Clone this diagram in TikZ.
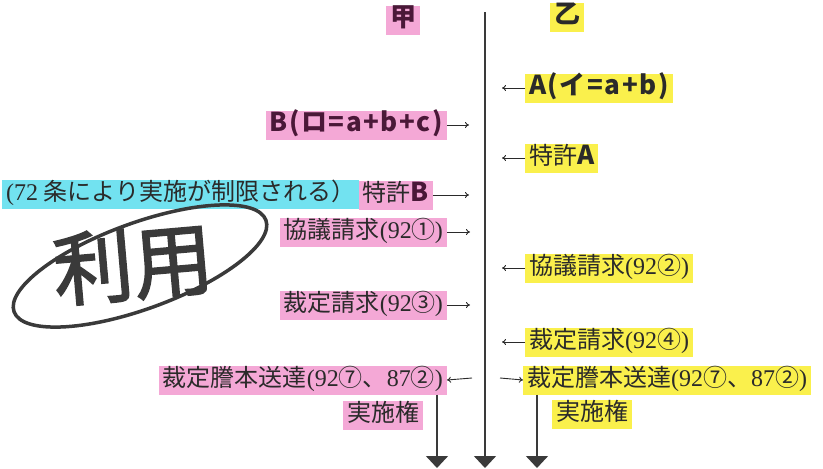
\documentclass[tikz,border=0pt]{standalone}
\usepackage{fontspec}
\setmainfont{Noto Sans CJK JP}
\newfontfamily\lser{Liberation Serif}
\newfontfamily\handfont[FakeBold=2]{Noto Sans CJK JP}
\usetikzlibrary{arrows.meta,shapes.geometric}
\definecolor{hlpink}{HTML}{F4A8D6}
\definecolor{hlyel}{HTML}{FAF04C}
\definecolor{hlcyan}{HTML}{72E2F0}
\definecolor{ink}{HTML}{2A2A2A}
\definecolor{pinkink}{HTML}{4A1838}
\definecolor{lineink}{HTML}{3A3A3A}
\newcommand\sr[1]{{\lser #1}}
\newcommand\gb[1]{{\bfseries\addfontfeature{LetterSpace=6}#1}}
\tikzset{
  hlbase/.style={inner xsep=4pt, inner ysep=3pt, text height=18pt, text depth=5pt,
    font=\fontsize{24}{28}\selectfont, text=ink},
  pinkhl/.style={hlbase, fill=hlpink},
  yelhl/.style={hlbase, fill=hlyel},
  cyanhl/.style={hlbase, fill=hlcyan},
  gothic/.style={font=\bfseries\fontsize{26}{30}\selectfont},
  tarrow/.style={draw=ink, line width=0.9pt, -{To[length=4pt,width=6pt]}},
  timeline/.style={draw=lineink, line width=1.5pt,
    -{Triangle[width=22pt,length=12pt,fill=lineink]}},
}
\begin{document}
\begin{tikzpicture}[x=1pt,y=-1pt]
\useasboundingbox (0,0) rectangle (823,469);
\fill[white] (0,0) rectangle (823,469);

% party labels
\node[pinkhl, gothic, text=pinkink, inner xsep=4pt] (kou) at (403,20) {甲};
\node[yelhl, gothic, anchor=west] (otsu) at (550,17) {乙\hspace{24pt}};

% main time line
\coordinate (top) at (485,12);
\coordinate (bot) at (485,468);
\draw[timeline] (top) -- (bot);

% exchanges
\node[yelhl, gothic, anchor=west] (A) at (525,88) {\gb{A(イ=a+b)}};
\coordinate (aS) at (502,88);
\draw[tarrow] (A.west) -- (aS);

\node[pinkhl, gothic, text=pinkink, anchor=east] (B) at (447,125) {\gb{B(ロ=a+b+c)}};
\coordinate (bE) at (469,125);
\draw[tarrow] (B.east) -- (bE);

\node[yelhl, anchor=west] (patA) at (525,158) {特許{\fontsize{26}{30}\selectfont\bfseries A}};
\coordinate (paS) at (502,158);
\draw[tarrow] (patA.west) -- (paS);

\node[cyanhl, anchor=west] (limit) at (2,194) {\sr{(72} 条により実施が制限される）};
\node[pinkhl, anchor=east] (patB) at (433,195) {特許{\fontsize{26}{30}\selectfont\bfseries\color{pinkink}B}};
\coordinate (pbE) at (469,195);
\draw[tarrow] (patB.east) -- (pbE);

\node[pinkhl, anchor=east] (k1) at (447,232) {協議請求\sr{(92}①\kern-1pt\sr{)}};
\coordinate (k1E) at (470,232);
\draw[tarrow] (k1.east) -- (k1E);

\node[yelhl, anchor=west] (k2) at (525,268) {協議請求\sr{(92}②\sr{)}};
\coordinate (k2S) at (502,268);
\draw[tarrow] (k2.west) -- (k2S);

\node[pinkhl, anchor=east] (s3) at (447,305) {裁定請求\sr{(92}③\kern-1pt\sr{)}};
\coordinate (s3E) at (470,305);
\draw[tarrow] (s3.east) -- (s3E);

\node[yelhl, anchor=west] (s4) at (525,342) {裁定請求\sr{(92}④\sr{)}\hspace{14pt}};
\coordinate (s4S) at (502,342);
\draw[tarrow] (s4.west) -- (s4S);

\node[pinkhl, anchor=east] (tL) at (447,380) {裁定謄本送達\sr{(92}⑦、\sr{87}②\sr{)}};
\coordinate (tLS) at (472,378);
\draw[tarrow] (tLS) -- (tL.east);

\node[yelhl, anchor=west] (tR) at (523,380) {裁定謄本送達\sr{(92}⑦、\sr{87}②\sr{)}};
\coordinate (tRS) at (500,378);
\draw[tarrow] (tRS) -- (tR.west);

\node[pinkhl] (jL) at (383,415) {実施権};
\node[yelhl] (jR) at (592,414) {実施権};

\coordinate (lbot) at (437,468);
\coordinate (rbot) at (537,468);
\draw[timeline] ([xshift=-10pt]tL.south east) -- (lbot);
\draw[timeline] ([xshift=14pt]tR.south west) -- (rbot);

% handwritten note
\node[font=\handfont\fontsize{80}{82}\selectfont, text=lineink, rotate=5] (riyou) at (133,264) {利用};
\node[draw=lineink, line width=3.5pt, ellipse, rotate=20,
      minimum width=268pt, minimum height=86pt] (ring) at (140,266) {};
\end{tikzpicture}
\end{document}
